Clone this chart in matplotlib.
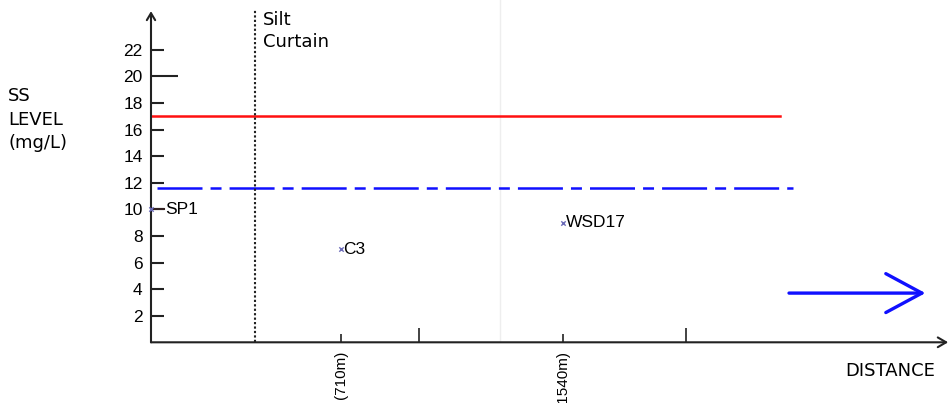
import matplotlib.pyplot as plt
from matplotlib.patches import FancyArrowPatch

plt.rcParams['font.family'] = ['Liberation Sans Narrow', 'Liberation Sans', 'DejaVu Sans']
plt.rcParams['lines.scale_dashes'] = False

# data (distance in m, SS level in mg/L)
station_names = ['SP1', 'C3', 'WSD17']
station_dist = [0, 710, 1540]
station_ss = [10, 7, 9]
dist_labels = ['(710m)', '(1540m)']
limit_level = 17.0      # red line
action_level = 11.6     # blue dash-dot line
limit_end = 2350
action_start, action_end = 22, 2400
silt_curtain = 390
yticks = [2, 4, 6, 8, 10, 12, 14, 16, 18, 20, 22]
major_x = [1000, 2000]

fig = plt.figure(figsize=(9.53, 4.03), dpi=100)
ax = fig.add_axes([151 / 953, 60.7 / 403, 802 / 953, 342.3 / 403])
ax.set_xlim(0, 2998)
ax.set_ylim(0, 25.74)
for s in ax.spines.values():
    s.set_visible(False)

# axes drawn as arrows
ax.annotate('', xy=(0, 24.9), xytext=(0, 0),
            arrowprops=dict(arrowstyle='->,head_length=0.5,head_width=0.3', color='#222222', lw=1.5,
                            shrinkA=0, shrinkB=0), annotation_clip=False)
ax.annotate('', xy=(2980, 0), xytext=(0, 0),
            arrowprops=dict(arrowstyle='->,head_length=0.6,head_width=0.35', color='#222222', lw=1.5,
                            shrinkA=0, shrinkB=0), annotation_clip=False)

ax.set_yticks(yticks)
ax.set_yticklabels([str(v) for v in yticks])
ax.tick_params(axis='y', direction='in', length=9.4, width=1.5, color='#222222',
               labelsize=12.5, pad=6)
for t, v in zip(ax.yaxis.get_major_ticks(), yticks):
    if v == 20:
        t.tick1line.set_markersize(19.5)

ax.set_xticks(major_x)
ax.set_xticklabels(['', ''])
ax.set_xticks(station_dist[1:], minor=True)
ax.set_xticklabels(dist_labels, minor=True, rotation=90, va='top', ha='center')
ax.tick_params(axis='x', which='major', direction='in', length=10, width=1.2, color='#222222')
ax.tick_params(axis='x', which='minor', direction='in', length=5.8, width=1.2, color='#222222',
               labelsize=11, pad=6)

# faint scan line
ax.axvline(1305, color='#eeeeee', lw=1)

ax.plot([0, limit_end], [limit_level, limit_level], color='#ff1010', lw=1.8)
ax.plot([action_start, action_end], [action_level, action_level], color='#1010ff', lw=1.8,
        linestyle=(0, (32.4, 5.8, 7.9, 5.8)))
ax.plot([silt_curtain, silt_curtain], [0, 25.0], color='#222222', lw=1.5,
        linestyle=(0, (1.6, 1.6)))

ax.scatter(station_dist, station_ss, marker='x', s=10, color='#6a6ab8', lw=1, zorder=5, clip_on=False)
ax.plot([0, 48], [10, 10], color='#332222', lw=1.5)
offsets = [52, 10, 10]
for name, d, v, o in zip(station_names, station_dist, station_ss, offsets):
    ax.text(d + o, v, name, fontsize=12.5, va='center', ha='left')

ax.text(silt_curtain + 30, 24.95, 'Silt\nCurtain', family='DejaVu Sans', fontsize=13,
        va='top', ha='left', linespacing=1.3)

fig.text(8 / 953, 1 - 87 / 403, 'SS\nLEVEL\n(mg/L)', family='DejaVu Sans', fontsize=13,
         va='top', ha='left', linespacing=1.4)
fig.text(845 / 953, 1 - 371 / 403, 'DISTANCE', family='DejaVu Sans', fontsize=13,
         va='center', ha='left')

arrow = FancyArrowPatch((2385, 3.7), (2895, 3.7), arrowstyle='->,head_length=26,head_width=14',
                        color='#1010ff', lw=2.4, mutation_scale=1, shrinkA=0, shrinkB=0)
ax.add_patch(arrow)

fig.savefig('out.png', dpi=100)
